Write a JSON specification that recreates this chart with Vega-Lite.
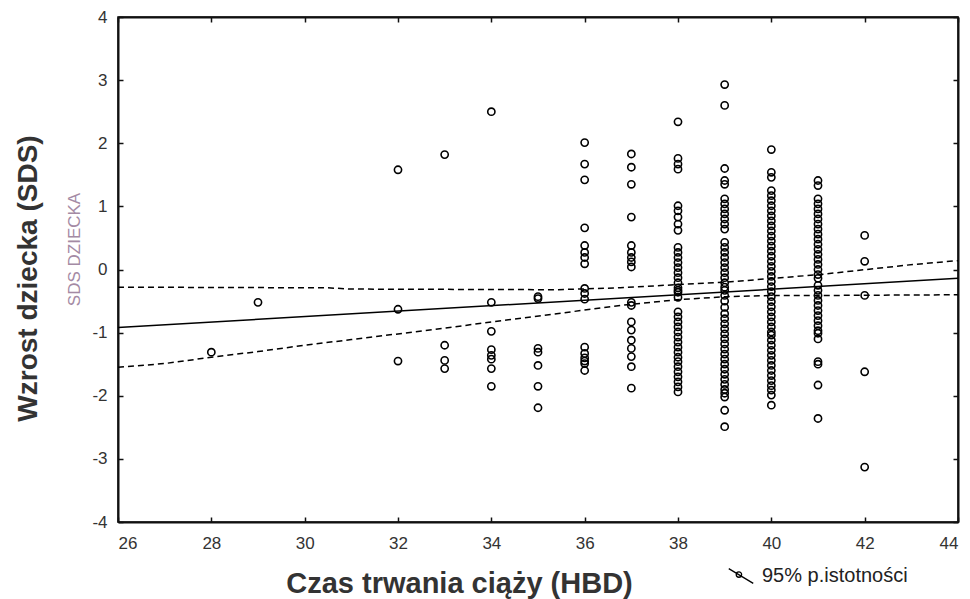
{
  "$schema": "https://vega.github.io/schema/vega-lite/v6.json",
  "width": 840,
  "height": 505,
  "autosize": {"type": "none"},
  "padding": {"left": 118, "top": 17, "right": 12, "bottom": 77},
  "background": "white",
  "config": {
    "font": "Liberation Sans",
    "view": {"stroke": "black", "strokeWidth": 1.5},
    "axis": {
      "domainColor": "#111",
      "domainWidth": 2,
      "tickColor": "#111",
      "tickWidth": 1.5,
      "tickSize": -5,
      "grid": false,
      "labelFont": "Liberation Sans",
      "labelFontSize": 17,
      "labelColor": "#333",
      "titleFont": "Liberation Sans"
    }
  },
  "datasets": {
    "pts": [
      {"x": 28, "y": -1.31},
      {"x": 29, "y": -0.52},
      {"x": 32, "y": 1.58}, {"x": 32, "y": -0.63}, {"x": 32, "y": -1.45},
      {"x": 33, "y": 1.82}, {"x": 33, "y": -1.2}, {"x": 33, "y": -1.44}, {"x": 33, "y": -1.57},
      {"x": 34, "y": 2.5}, {"x": 34, "y": -0.52}, {"x": 34, "y": -0.98}, {"x": 34, "y": -1.27}, {"x": 34, "y": -1.36}, {"x": 34, "y": -1.42}, {"x": 34, "y": -1.57}, {"x": 34, "y": -1.85},
      {"x": 35, "y": -0.43}, {"x": 35, "y": -0.46}, {"x": 35, "y": -1.25}, {"x": 35, "y": -1.31}, {"x": 35, "y": -1.52}, {"x": 35, "y": -1.85}, {"x": 35, "y": -2.19},
      {"x": 36, "y": 2.01}, {"x": 36, "y": 1.67}, {"x": 36, "y": 1.42}, {"x": 36, "y": 0.66}, {"x": 36, "y": 0.38}, {"x": 36, "y": 0.27}, {"x": 36, "y": 0.19}, {"x": 36, "y": 0.09},
      {"x": 36, "y": -0.3}, {"x": 36, "y": -0.38}, {"x": 36, "y": -0.47}, {"x": 36, "y": -1.23}, {"x": 36, "y": -1.33}, {"x": 36, "y": -1.4}, {"x": 36, "y": -1.45}, {"x": 36, "y": -1.49}, {"x": 36, "y": -1.6},
      {"x": 37, "y": 1.83}, {"x": 37, "y": 1.62}, {"x": 37, "y": 1.35}, {"x": 37, "y": 0.83}, {"x": 37, "y": 0.38}, {"x": 37, "y": 0.27}, {"x": 37, "y": 0.19}, {"x": 37, "y": 0.12}, {"x": 37, "y": 0.04},
      {"x": 37, "y": -0.52}, {"x": 37, "y": -0.57}, {"x": 37, "y": -0.83}, {"x": 37, "y": -0.96}, {"x": 37, "y": -1.12}, {"x": 37, "y": -1.25}, {"x": 37, "y": -1.38}, {"x": 37, "y": -1.54}, {"x": 37, "y": -1.88},
      {"x": 38, "y": 2.34}, {"x": 38, "y": 1.76}, {"x": 38, "y": 1.67}, {"x": 38, "y": 1.59}, {"x": 38, "y": 1.01}, {"x": 38, "y": 0.93}, {"x": 38, "y": 0.83}, {"x": 38, "y": 0.72}, {"x": 38, "y": 0.62},
      {"x": 38, "y": 0.35}, {"x": 38, "y": 0.27}, {"x": 38, "y": 0.19}, {"x": 38, "y": 0.11}, {"x": 38, "y": 0.03}, {"x": 38, "y": -0.05}, {"x": 38, "y": -0.13}, {"x": 38, "y": -0.21}, {"x": 38, "y": -0.29},
      {"x": 38, "y": -0.33}, {"x": 38, "y": -0.36}, {"x": 38, "y": -0.44}, {"x": 38, "y": -0.67}, {"x": 38, "y": -0.75}, {"x": 38, "y": -0.83}, {"x": 38, "y": -0.91}, {"x": 38, "y": -0.99}, {"x": 38, "y": -1.07},
      {"x": 38, "y": -1.15}, {"x": 38, "y": -1.23}, {"x": 38, "y": -1.31}, {"x": 38, "y": -1.39}, {"x": 38, "y": -1.46}, {"x": 38, "y": -1.54}, {"x": 38, "y": -1.62}, {"x": 38, "y": -1.7}, {"x": 38, "y": -1.78}, {"x": 38, "y": -1.86}, {"x": 38, "y": -1.94},
      {"x": 39, "y": 2.93}, {"x": 39, "y": 2.6}, {"x": 39, "y": 1.6}, {"x": 39, "y": 1.41}, {"x": 39, "y": 1.35}, {"x": 39, "y": 1.12}, {"x": 39, "y": 1.04}, {"x": 39, "y": 0.96}, {"x": 39, "y": 0.88}, {"x": 39, "y": 0.8}, {"x": 39, "y": 0.72}, {"x": 39, "y": 0.64},
      {"x": 39, "y": 0.43}, {"x": 39, "y": 0.35}, {"x": 39, "y": 0.27}, {"x": 39, "y": 0.19}, {"x": 39, "y": 0.11}, {"x": 39, "y": 0.03}, {"x": 39, "y": -0.05}, {"x": 39, "y": -0.13}, {"x": 39, "y": -0.21}, {"x": 39, "y": -0.28},
      {"x": 39, "y": -0.33}, {"x": 39, "y": -0.41}, {"x": 39, "y": -0.5}, {"x": 39, "y": -0.6}, {"x": 39, "y": -0.7}, {"x": 39, "y": -0.78}, {"x": 39, "y": -0.86}, {"x": 39, "y": -0.94}, {"x": 39, "y": -1.02}, {"x": 39, "y": -1.1},
      {"x": 39, "y": -1.18}, {"x": 39, "y": -1.26}, {"x": 39, "y": -1.34}, {"x": 39, "y": -1.42}, {"x": 39, "y": -1.5}, {"x": 39, "y": -1.58}, {"x": 39, "y": -1.66}, {"x": 39, "y": -1.74}, {"x": 39, "y": -1.82}, {"x": 39, "y": -1.9},
      {"x": 39, "y": -1.96}, {"x": 39, "y": -2.02}, {"x": 39, "y": -2.23}, {"x": 39, "y": -2.49},
      {"x": 40, "y": 1.9}, {"x": 40, "y": 1.54}, {"x": 40, "y": 1.46}, {"x": 40, "y": 1.25}, {"x": 40, "y": 1.17}, {"x": 40, "y": 1.09}, {"x": 40, "y": 1.01}, {"x": 40, "y": 0.93}, {"x": 40, "y": 0.85}, {"x": 40, "y": 0.77},
      {"x": 40, "y": 0.69}, {"x": 40, "y": 0.61}, {"x": 40, "y": 0.53}, {"x": 40, "y": 0.45}, {"x": 40, "y": 0.37}, {"x": 40, "y": 0.29}, {"x": 40, "y": 0.21}, {"x": 40, "y": 0.13}, {"x": 40, "y": 0.05}, {"x": 40, "y": -0.03},
      {"x": 40, "y": -0.11}, {"x": 40, "y": -0.19}, {"x": 40, "y": -0.27}, {"x": 40, "y": -0.35}, {"x": 40, "y": -0.43}, {"x": 40, "y": -0.51}, {"x": 40, "y": -0.59}, {"x": 40, "y": -0.67}, {"x": 40, "y": -0.75}, {"x": 40, "y": -0.83},
      {"x": 40, "y": -0.91}, {"x": 40, "y": -0.99}, {"x": 40, "y": -1.04}, {"x": 40, "y": -1.12}, {"x": 40, "y": -1.2}, {"x": 40, "y": -1.28}, {"x": 40, "y": -1.36}, {"x": 40, "y": -1.44}, {"x": 40, "y": -1.52}, {"x": 40, "y": -1.6},
      {"x": 40, "y": -1.68}, {"x": 40, "y": -1.76}, {"x": 40, "y": -1.84}, {"x": 40, "y": -1.91}, {"x": 40, "y": -1.99}, {"x": 40, "y": -2.15},
      {"x": 41, "y": 1.41}, {"x": 41, "y": 1.33}, {"x": 41, "y": 1.12}, {"x": 41, "y": 1.04}, {"x": 41, "y": 0.96}, {"x": 41, "y": 0.88}, {"x": 41, "y": 0.8}, {"x": 41, "y": 0.72}, {"x": 41, "y": 0.64}, {"x": 41, "y": 0.56},
      {"x": 41, "y": 0.48}, {"x": 41, "y": 0.4}, {"x": 41, "y": 0.32}, {"x": 41, "y": 0.24}, {"x": 41, "y": 0.16}, {"x": 41, "y": 0.08}, {"x": 41, "y": 0.0}, {"x": 41, "y": -0.08}, {"x": 41, "y": -0.14},
      {"x": 41, "y": -0.25}, {"x": 41, "y": -0.33}, {"x": 41, "y": -0.41}, {"x": 41, "y": -0.49}, {"x": 41, "y": -0.57}, {"x": 41, "y": -0.65}, {"x": 41, "y": -0.73}, {"x": 41, "y": -0.81}, {"x": 41, "y": -0.89}, {"x": 41, "y": -0.97},
      {"x": 41, "y": -1.01}, {"x": 41, "y": -1.1}, {"x": 41, "y": -1.46}, {"x": 41, "y": -1.5}, {"x": 41, "y": -1.83}, {"x": 41, "y": -2.36},
      {"x": 42, "y": 0.54}, {"x": 42, "y": 0.13}, {"x": 42, "y": -0.41}, {"x": 42, "y": -1.62}, {"x": 42, "y": -3.13}
    ],
    "fit": [
      {"x": 26, "y": -0.92},
      {"x": 44, "y": -0.14}
    ],
    "band": [
      {"side": "upper", "label": "95% p.istotności", "x": 26, "y": -0.28},
      {"side": "upper", "label": "95% p.istotności", "x": 30.5, "y": -0.29},
      {"side": "upper", "label": "95% p.istotności", "x": 31, "y": -0.31},
      {"side": "upper", "label": "95% p.istotności", "x": 35.4, "y": -0.32},
      {"side": "upper", "label": "95% p.istotności", "x": 36.76, "y": -0.29},
      {"side": "upper", "label": "95% p.istotności", "x": 37.97, "y": -0.24},
      {"side": "upper", "label": "95% p.istotności", "x": 39.04, "y": -0.2},
      {"side": "upper", "label": "95% p.istotności", "x": 40.04, "y": -0.14},
      {"side": "upper", "label": "95% p.istotności", "x": 41.04, "y": -0.08},
      {"side": "upper", "label": "95% p.istotności", "x": 42.04, "y": 0.0},
      {"side": "upper", "label": "95% p.istotności", "x": 43.04, "y": 0.08},
      {"side": "upper", "label": "95% p.istotności", "x": 44, "y": 0.14},
      {"side": "lower", "label": "95% p.istotności", "x": 26, "y": -1.55},
      {"side": "lower", "label": "95% p.istotności", "x": 27, "y": -1.49},
      {"side": "lower", "label": "95% p.istotności", "x": 28, "y": -1.39},
      {"side": "lower", "label": "95% p.istotności", "x": 29, "y": -1.3},
      {"side": "lower", "label": "95% p.istotności", "x": 30, "y": -1.2},
      {"side": "lower", "label": "95% p.istotności", "x": 31, "y": -1.11},
      {"side": "lower", "label": "95% p.istotności", "x": 32, "y": -1.02},
      {"side": "lower", "label": "95% p.istotności", "x": 33, "y": -0.93},
      {"side": "lower", "label": "95% p.istotności", "x": 34, "y": -0.83},
      {"side": "lower", "label": "95% p.istotności", "x": 35.4, "y": -0.7},
      {"side": "lower", "label": "95% p.istotności", "x": 36.76, "y": -0.57},
      {"side": "lower", "label": "95% p.istotności", "x": 37.97, "y": -0.48},
      {"side": "lower", "label": "95% p.istotności", "x": 39.04, "y": -0.43},
      {"side": "lower", "label": "95% p.istotności", "x": 40.04, "y": -0.41},
      {"side": "lower", "label": "95% p.istotności", "x": 41.5, "y": -0.41},
      {"side": "lower", "label": "95% p.istotności", "x": 44, "y": -0.4}
    ]
  },
  "layer": [
    {
      "data": {"name": "pts"},
      "mark": {"type": "point", "shape": "circle", "filled": false, "stroke": "black", "strokeWidth": 1.6, "size": 52, "opacity": 1},
      "encoding": {
        "x": {
          "field": "x", "type": "quantitative",
          "scale": {"domain": [26, 44], "nice": false, "zero": false},
          "axis": {
            "orient": "bottom",
            "values": [26, 28, 30, 32, 34, 36, 38, 40, 42, 44],
            "labelPadding": 18,
            "title": "Czas trwania ciąży (HBD)",
            "titleFontSize": 29,
            "titleFontWeight": "bold",
            "titleColor": "#333",
            "titleX": 341,
            "titleY": 70,
            "titleAlign": "center",
            "titleBaseline": "alphabetic"
          }
        },
        "y": {
          "field": "y", "type": "quantitative",
          "scale": {"domain": [-4, 4], "nice": false, "zero": false},
          "axis": {
            "orient": "left",
            "values": [-4, -3, -2, -1, 0, 1, 2, 3, 4],
            "labelExpr": "replace(datum.label, '−', '-')",
            "labelPadding": 16,
            "title": "Wzrost dziecka (SDS)",
            "titleFontSize": 28,
            "titleFontWeight": "bold",
            "titleColor": "#333",
            "titleAngle": -90,
            "titleX": -90,
            "titleY": 261,
            "titleAlign": "center",
            "titleBaseline": "middle"
          }
        }
      }
    },
    {
      "data": {"name": "fit"},
      "mark": {"type": "line", "color": "black", "strokeWidth": 1.5},
      "encoding": {
        "x": {"field": "x", "type": "quantitative",
          "axis": {"orient": "top", "values": [26, 28, 30, 32, 34, 36, 38, 40, 42, 44], "labels": false, "title": null}},
        "y": {"field": "y", "type": "quantitative",
          "axis": {"orient": "right", "values": [-4, -3, -2, -1, 0, 1, 2, 3, 4], "labels": false, "title": null}}
      }
    },
    {
      "data": {"name": "band"},
      "mark": {"type": "line", "strokeWidth": 1.5, "strokeDash": [6, 4]},
      "encoding": {
        "x": {"field": "x", "type": "quantitative", "axis": null},
        "y": {"field": "y", "type": "quantitative",
          "axis": {"orient": "left", "labels": false, "ticks": false, "domain": false, "title": "SDS DZIECKA",
            "titleFontSize": 17, "titleFontWeight": "normal", "titleColor": "#a48aa4",
            "titleAngle": -90, "titleX": -44, "titleY": 232, "titleAlign": "center", "titleBaseline": "middle"}},
        "detail": {"field": "side"},
        "color": {
          "field": "label", "type": "nominal",
          "scale": {"range": ["black"]},
          "legend": {
            "title": null,
            "orient": "none",
            "legendX": 610,
            "legendY": 546,
            "padding": 0,
            "symbolType": "M-1,-0.6L1,0.6M0.05,-0.12A0.22,0.22,0,1,1,-0.39,-0.12A0.22,0.22,0,1,1,0.05,-0.12",
            "symbolSize": 600,
            "symbolStrokeWidth": 1.3,
            "symbolStrokeColor": "black",
            "symbolFillColor": "transparent",
            "labelFontSize": 20,
            "labelColor": "#222",
            "labelFont": "Liberation Sans",
            "labelOffset": 8
          }
        }
      }
    }
  ],
  "resolve": {"axis": {"x": "independent", "y": "independent"}}
}
